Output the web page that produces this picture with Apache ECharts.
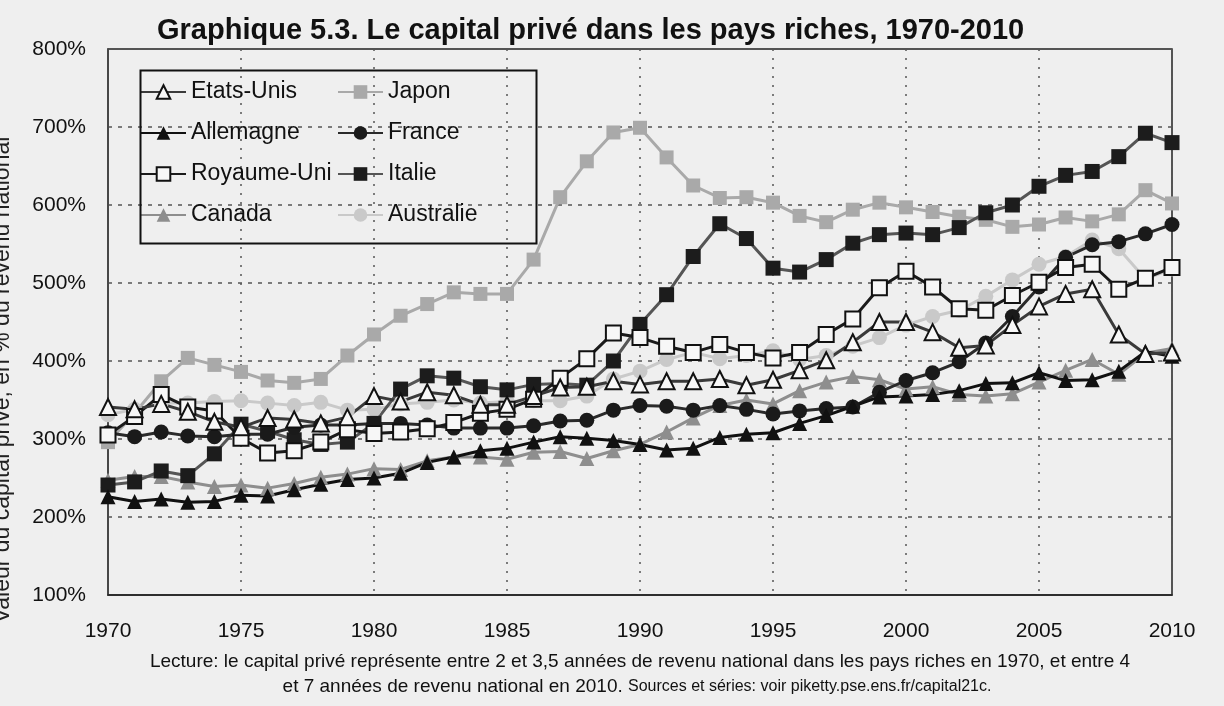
<!DOCTYPE html>
<html>
<head>
<meta charset="utf-8">
<title>Graphique 5.3</title>
<script src="https://cdn.jsdelivr.net/npm/echarts@6.0.0/dist/echarts.min.js"></script>
<style>
  html, body { margin: 0; padding: 0; background: #efefef; }
  #chart { width: 1224px; height: 706px; }
</style>
</head>
<body>
<div id="chart"></div>
<script>
// annees (axe x)
var years = [1970, 1971, 1972, 1973, 1974, 1975, 1976, 1977, 1978, 1979,
             1980, 1981, 1982, 1983, 1984, 1985, 1986, 1987, 1988, 1989,
             1990, 1991, 1992, 1993, 1994, 1995, 1996, 1997, 1998, 1999,
             2000, 2001, 2002, 2003, 2004, 2005, 2006, 2007, 2008, 2009, 2010];

// capital prive en % du revenu national
var etatsUnis  = [341, 338, 345, 335, 322, 315, 327, 325, 320, 328,
                  355, 348, 360, 356, 344, 344, 355, 366, 367, 374,
                  370, 374, 374, 377, 369, 376, 388, 401, 424, 450,
                  450, 437, 417, 420, 446, 470, 486, 492, 434, 409, 411];
var japon      = [296, 333, 374, 404, 395, 386, 375, 372, 377, 407,
                  434, 458, 473, 488, 486, 486, 530, 610, 656, 693,
                  699, 661, 625, 609, 610, 603, 586, 578, 594, 603,
                  597, 591, 585, 581, 572, 575, 584, 579, 588, 619, 602];
var allemagne  = [226, 220, 223, 219, 220, 228, 227, 235, 242, 248,
                  250, 256, 270, 277, 285, 288, 296, 303, 301, 298,
                  293, 286, 288, 302, 306, 308, 320, 330, 342, 354,
                  355, 357, 362, 371, 372, 385, 375, 376, 387, 412, 406];
var france     = [308, 303, 309, 304, 303, 306, 306, 315, 318, 318,
                  320, 320, 318, 314, 314, 314, 317, 323, 324, 337,
                  343, 342, 337, 343, 338, 332, 336, 339, 341, 360,
                  375, 385, 399, 423, 457, 495, 533, 549, 553, 563, 575];
var royaumeUni = [305, 329, 357, 341, 336, 301, 282, 285, 296, 312,
                  307, 309, 313, 321, 333, 338, 351, 378, 403, 436,
                  430, 419, 411, 421, 411, 404, 411, 434, 454, 494,
                  515, 495, 467, 465, 484, 501, 520, 524, 492, 506, 520];
var italie     = [241, 245, 259, 253, 281, 319, 310, 299, 293, 296,
                  320, 364, 381, 378, 367, 363, 370, 371, 369, 400,
                  447, 485, 534, 576, 557, 519, 514, 530, 551, 562,
                  564, 562, 571, 590, 600, 624, 638, 643, 662, 692, 680];
var canada     = [247, 252, 252, 245, 239, 241, 237, 243, 251, 255,
                  262, 261, 272, 277, 277, 274, 283, 284, 275, 285,
                  293, 309, 327, 343, 350, 345, 362, 373, 380, 376,
                  364, 367, 357, 355, 358, 373, 388, 402, 383, 410, 416];
var australie  = [331, 338, 346, 346, 348, 349, 346, 343, 347, 337,
                  338, 345, 347, 350, 346, 348, 349, 349, 355, 377,
                  387, 402, 411, 403, 407, 413, 402, 407, 419, 430,
                  446, 457, 465, 483, 504, 524, 534, 555, 544, 505, 518];

var leftLegend  = ['Etats-Unis', 'Allemagne', 'Royaume-Uni', 'Canada'];
var rightLegend = ['Japon', 'France', 'Italie', 'Australie'];

var FONT = '"Liberation Sans", Arial, sans-serif';

function pairs(values) {
    return years.map(function (y, i) { return [y, values[i]]; });
}

// une serie = ligne + marqueur
function serie(name, values, symbol, lineColor, fill, border, size) {
    return {
        name: name,
        type: 'line',
        data: pairs(values),
        symbol: symbol,
        symbolSize: size,
        showAllSymbol: true,
        lineStyle: { color: lineColor, width: 3 },
        itemStyle: { color: fill, borderColor: border, borderWidth: border === fill ? 0 : 2, opacity: 1 },
        emphasis: { disabled: true },
        animation: false
    };
}

var legendBase = {
    orient: 'vertical',
    top: 80,
    padding: 0,
    itemWidth: 45,
    itemHeight: 17,
    itemGap: 17,
    textStyle: { fontSize: 23, color: '#111', fontFamily: FONT, lineHeight: 24 }
};

var option = {
    backgroundColor: '#efefef',
    textStyle: { fontFamily: FONT },
    title: {
        text: 'Graphique 5.3. Le capital privé dans les pays riches, 1970-2010',
        left: 152,
        top: 11,
        textStyle: { fontSize: 29, fontWeight: 'bold', color: '#111', fontFamily: FONT }
    },
    legend: [
        Object.assign({}, legendBase, { left: 140, data: leftLegend }),
        Object.assign({}, legendBase, { left: 337, data: rightLegend })
    ],
    grid: {
        left: 108, right: 52, top: 49, bottom: 111,
        show: true, borderColor: '#222', borderWidth: 1.5, backgroundColor: 'transparent'
    },
    xAxis: {
        type: 'value',
        min: 1970, max: 2010, interval: 5,
        axisLine: { show: true, lineStyle: { color: '#222', width: 1.5 } },
        axisTick: { show: false },
        axisLabel: { fontSize: 21, color: '#111', margin: 26, fontFamily: FONT,
                     formatter: function (v) { return String(v); } },
        splitLine: { show: true, lineStyle: { color: '#555', width: 1.5, type: [2, 7] } }
    },
    yAxis: {
        type: 'value',
        min: 100, max: 800, interval: 100,
        axisLine: { show: true, lineStyle: { color: '#444', width: 1.5 } },
        axisTick: { show: false },
        axisLabel: { fontSize: 21, color: '#111', margin: 22, fontFamily: FONT,
                     formatter: '{value}%' },
        splitLine: { show: true, lineStyle: { color: '#555', width: 1.5, type: [4, 6] } }
    },
    graphic: [
        {   // cadre de la legende
            type: 'rect', left: 138, top: 68, z: 10,
            shape: { width: 396, height: 173 },
            style: { fill: 'none', stroke: '#111', lineWidth: 2 }
        },
        {   // titre de l'axe y, coupe par le bord gauche
            type: 'text', x: 3, y: 380, rotation: Math.PI / 2,
            style: { text: 'Valeur du capital privé, en % du revenu national',
                     font: '23px ' + FONT, fill: '#222', align: 'center', verticalAlign: 'middle' }
        },
        {
            type: 'text', x: 640, y: 662,
            style: { text: 'Lecture: le capital privé représente entre 2 et 3,5 années de revenu national dans les pays riches en 1970, et entre 4',
                     font: '19px ' + FONT, fill: '#111', align: 'center', verticalAlign: 'middle' }
        },
        {
            type: 'text', x: 637, y: 687,
            style: {
                text: '{a|et 7 années de revenu national en 2010. }{b|Sources et séries: voir piketty.pse.ens.fr/capital21c.}',
                align: 'center', verticalAlign: 'middle',
                rich: {
                    a: { font: '19px ' + FONT, fill: '#111' },
                    b: { font: '16px ' + FONT, fill: '#111' }
                }
            }
        }
    ],
    series: [
        serie('Australie',   australie,  'circle',   '#c9c9c9', '#c9c9c9', '#c9c9c9', 15),
        serie('Japon',       japon,      'rect',     '#a9a9a9', '#a9a9a9', '#a9a9a9', 14),
        serie('Canada',      canada,     'triangle', '#8e8e8e', '#8e8e8e', '#8e8e8e', 15),
        serie('Italie',      italie,     'rect',     '#555555', '#1c1c1c', '#1c1c1c', 15),
        serie('France',      france,     'circle',   '#2a2a2a', '#1a1a1a', '#1a1a1a', 15),
        serie('Allemagne',   allemagne,  'triangle', '#111111', '#111111', '#111111', 15),
        serie('Royaume-Uni', royaumeUni, 'rect',     '#1a1a1a', '#f7f7f7', '#111111', 15),
        serie('Etats-Unis',  etatsUnis,  'triangle', '#3a3a3a', '#f7f7f7', '#111111', 16)
    ]
};

var chart = echarts.init(document.getElementById('chart'));
chart.setOption(option);
</script>
</body>
</html>
